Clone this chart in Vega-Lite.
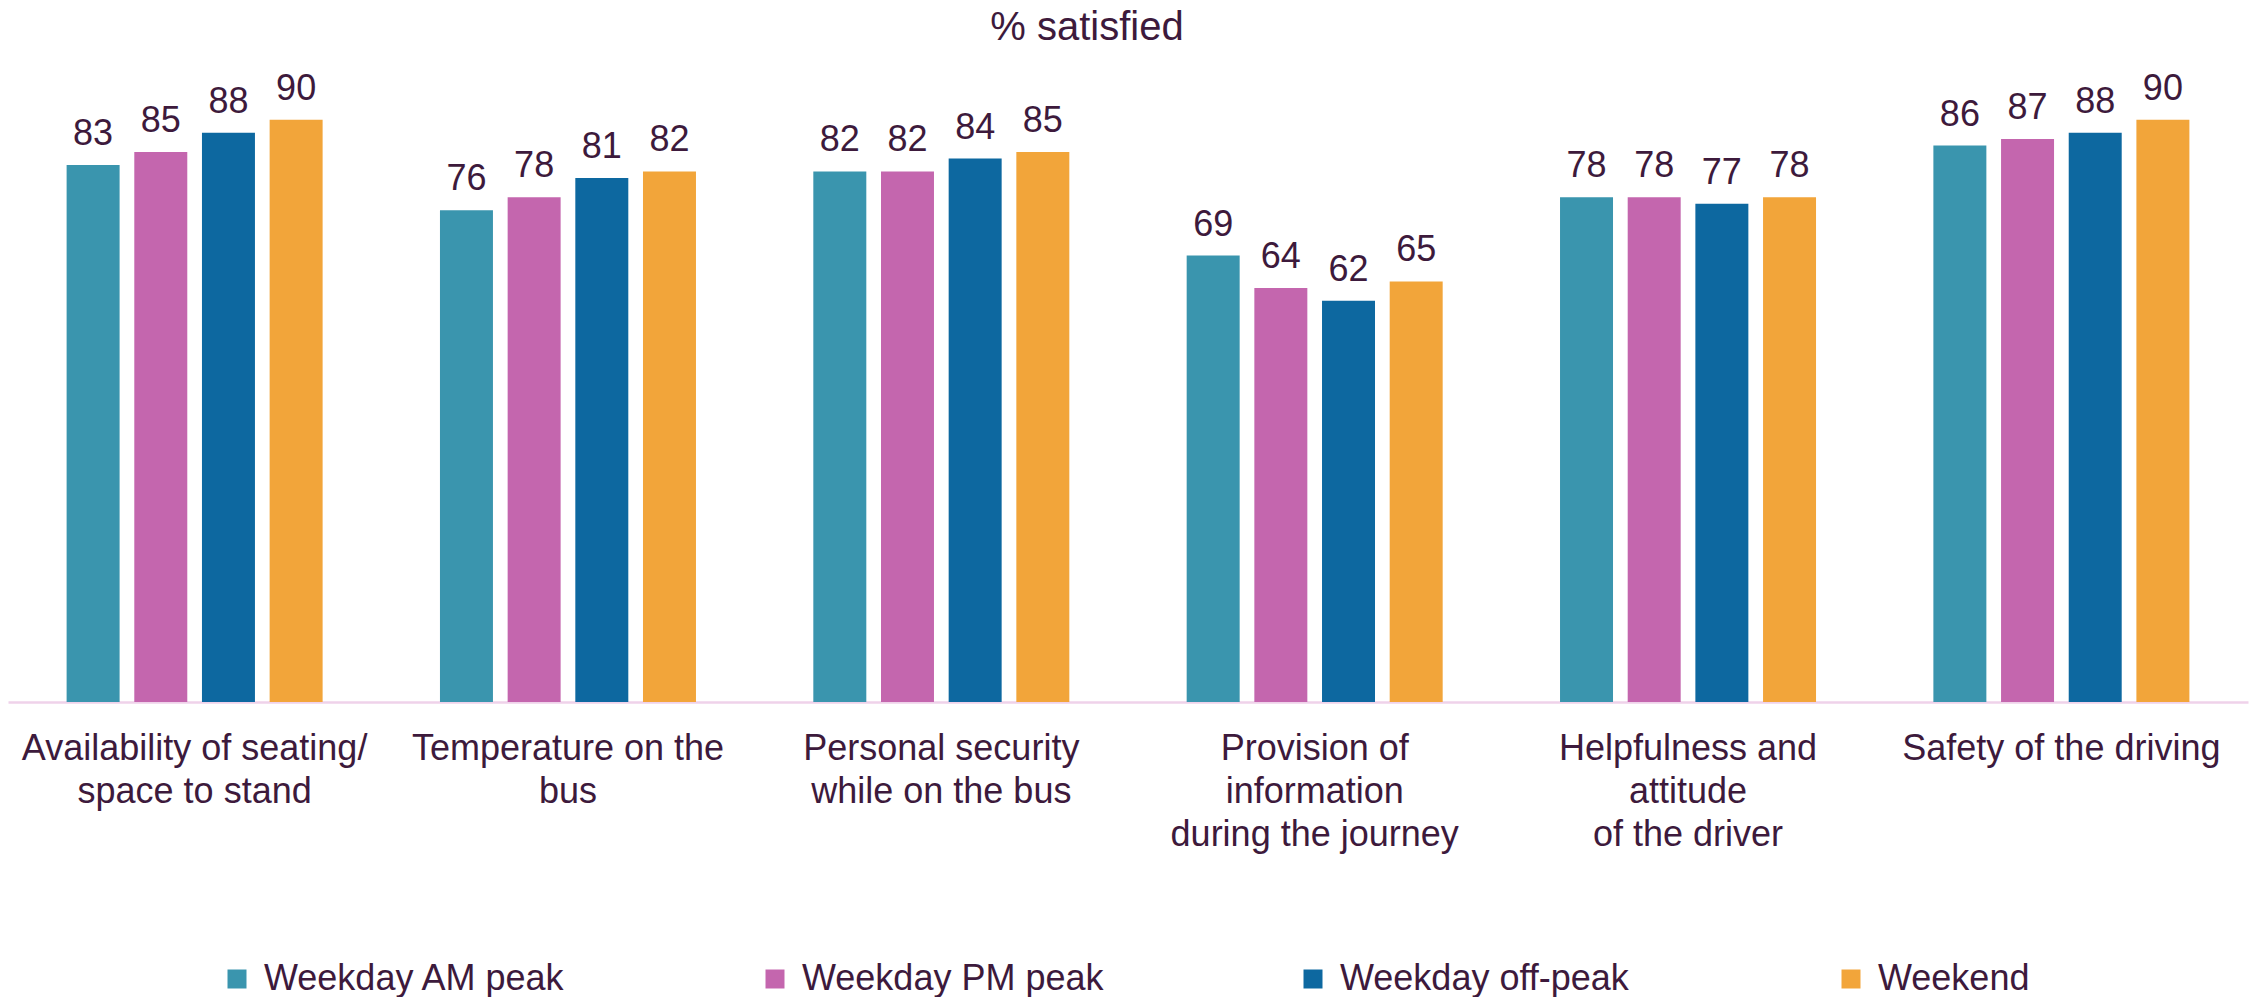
{
  "$schema": "https://vega.github.io/schema/vega-lite/v6.json",
  "width": 2240,
  "height": 647,
  "autosize": {"type": "none"},
  "padding": {"left": 8, "top": 55, "right": 12, "bottom": 295},
  "background": "white",
  "title": {"text": "% satisfied", "fontSize": 40, "font": "Liberation Sans", "fontWeight": "normal", "color": "#3D1A3C", "anchor": "middle", "dx": -41, "dy": 38, "baseline": "alphabetic", "offset": 13},
  "config": {"view": {"stroke": null}, "font": "Liberation Sans"},
  "data": {"values": [
    {"category": "Availability of seating/|space to stand", "period": "Weekday AM peak", "value": 83},
    {"category": "Availability of seating/|space to stand", "period": "Weekday PM peak", "value": 85},
    {"category": "Availability of seating/|space to stand", "period": "Weekday off-peak", "value": 88},
    {"category": "Availability of seating/|space to stand", "period": "Weekend", "value": 90},
    {"category": "Temperature on the|bus", "period": "Weekday AM peak", "value": 76},
    {"category": "Temperature on the|bus", "period": "Weekday PM peak", "value": 78},
    {"category": "Temperature on the|bus", "period": "Weekday off-peak", "value": 81},
    {"category": "Temperature on the|bus", "period": "Weekend", "value": 82},
    {"category": "Personal security|while on the bus", "period": "Weekday AM peak", "value": 82},
    {"category": "Personal security|while on the bus", "period": "Weekday PM peak", "value": 82},
    {"category": "Personal security|while on the bus", "period": "Weekday off-peak", "value": 84},
    {"category": "Personal security|while on the bus", "period": "Weekend", "value": 85},
    {"category": "Provision of|information|during the journey", "period": "Weekday AM peak", "value": 69},
    {"category": "Provision of|information|during the journey", "period": "Weekday PM peak", "value": 64},
    {"category": "Provision of|information|during the journey", "period": "Weekday off-peak", "value": 62},
    {"category": "Provision of|information|during the journey", "period": "Weekend", "value": 65},
    {"category": "Helpfulness and|attitude|of the driver", "period": "Weekday AM peak", "value": 78},
    {"category": "Helpfulness and|attitude|of the driver", "period": "Weekday PM peak", "value": 78},
    {"category": "Helpfulness and|attitude|of the driver", "period": "Weekday off-peak", "value": 77},
    {"category": "Helpfulness and|attitude|of the driver", "period": "Weekend", "value": 78},
    {"category": "Safety of the driving", "period": "Weekday AM peak", "value": 86},
    {"category": "Safety of the driving", "period": "Weekday PM peak", "value": 87},
    {"category": "Safety of the driving", "period": "Weekday off-peak", "value": 88},
    {"category": "Safety of the driving", "period": "Weekend", "value": 90}
  ]},
  "encoding": {
    "x": {
      "field": "category", "type": "nominal",
      "sort": ["Availability of seating/|space to stand", "Temperature on the|bus", "Personal security|while on the bus", "Provision of|information|during the journey", "Helpfulness and|attitude|of the driver", "Safety of the driving"],
      "scale": {"paddingInner": 0.3143, "paddingOuter": 0.157},
      "axis": {"title": null, "ticks": false, "labelAngle": 0, "labelPadding": 29, "labelFontSize": 36, "labelColor": "#3D1A3C", "labelLineHeight": 43, "labelBaseline": "top", "labelLimit": 0, "domainColor": "#EFD2EA", "domainWidth": 2.5, "labelExpr": "split(datum.label, '|')"}
    },
    "xOffset": {
      "field": "period", "type": "nominal",
      "sort": ["Weekday AM peak", "Weekday PM peak", "Weekday off-peak", "Weekend"],
      "scale": {"paddingInner": 0.217, "paddingOuter": 0}
    },
    "y": {"field": "value", "type": "quantitative", "scale": {"domain": [0, 100]}, "axis": null}
  },
  "layer": [
    {
      "mark": {"type": "bar"},
      "encoding": {
        "color": {
          "field": "period", "type": "nominal",
          "sort": ["Weekday AM peak", "Weekday PM peak", "Weekday off-peak", "Weekend"],
          "scale": {"domain": ["Weekday AM peak", "Weekday PM peak", "Weekday off-peak", "Weekend"], "range": ["#3A95AE", "#C466AE", "#0D68A0", "#F2A53A"]},
          "legend": {"orient": "none", "legendX": 211, "legendY": 906, "direction": "horizontal", "columns": 4, "title": null, "symbolType": "square", "symbolSize": 361, "symbolStrokeWidth": 0, "labelFontSize": 36, "labelColor": "#3D1A3C", "labelOffset": 9, "columnPadding": 191, "gridAlign": "all", "labelLimit": 0}
        }
      }
    },
    {
      "mark": {"type": "text", "dy": -20, "baseline": "alphabetic", "fontSize": 36, "color": "#3D1A3C"},
      "encoding": {"text": {"field": "value", "type": "quantitative"}}
    }
  ]
}
